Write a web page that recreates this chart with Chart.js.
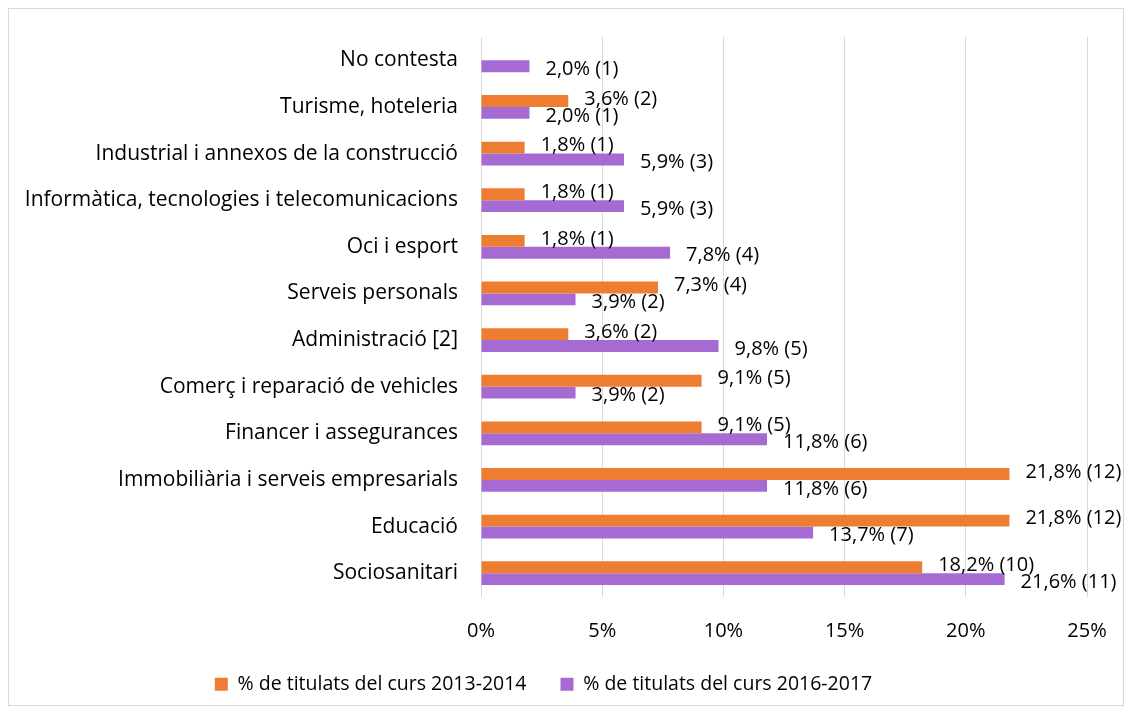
<!DOCTYPE html>
<html>
<head>
<meta charset="utf-8">
<script src="https://cdn.jsdelivr.net/npm/chart.js@4.4.0/dist/chart.umd.min.js"></script>
<style>
  html, body { margin: 0; padding: 0; background: #fff; }
  #wrap { position: relative; width: 1132px; height: 714px; }
</style>
</head>
<body>
<div id="wrap"><canvas id="grafic"></canvas></div>
<script>
// Sectors (de dalt a baix)
const sectors = [
  'No contesta',
  'Turisme, hoteleria',
  'Industrial i annexos de la construcció',
  'Informàtica, tecnologies i telecomunicacions',
  'Oci i esport',
  'Serveis personals',
  'Administració [2]',
  'Comerç i reparació de vehicles',
  'Financer i assegurances',
  'Immobiliària i serveis empresarials',
  'Educació',
  'Sociosanitari'
];

// % i nombre de titulats 2013-2014
const pct1314 = [null, 3.6, 1.8, 1.8, 1.8, 7.3, 3.6, 9.1, 9.1, 21.8, 21.8, 18.2];
const num1314 = [null, 2, 1, 1, 1, 4, 2, 5, 5, 12, 12, 10];

// % i nombre de titulats 2016-2017
const pct1617 = [2.0, 2.0, 5.9, 5.9, 7.8, 3.9, 9.8, 3.9, 11.8, 11.8, 13.7, 21.6];
const num1617 = [1, 1, 3, 3, 4, 2, 5, 2, 6, 6, 7, 11];

const xTicks = [0, 5, 10, 15, 20, 25];

const FONT = '"Open Sans", sans-serif';
const fmt = v => v.toFixed(1).replace('.', ',') + '%';

// etiquetes de dades + marc exterior
const etiquetes = {
  id: 'etiquetes',
  beforeDraw(chart) {
    const c = chart.ctx;
    c.save();
    c.strokeStyle = '#d9d9d9';
    c.lineWidth = 1;
    c.strokeRect(8.5, 8.5, 1115, 697);
    c.restore();
  },
  afterDatasetsDraw(chart) {
    const c = chart.ctx;
    const counts = [num1314, num1617];
    c.save();
    c.font = '20px ' + FONT;
    c.fillStyle = '#000';
    c.textBaseline = 'middle';
    c.textAlign = 'left';
    chart.data.datasets.forEach((ds, di) => {
      chart.getDatasetMeta(di).data.forEach((bar, i) => {
        const v = ds.data[i];
        if (v == null) return;
        const dy = di === 0 ? -2 : 3;
        c.fillText(fmt(v) + ' (' + counts[di][i] + ')', bar.x + 16, bar.y + dy);
      });
    });
    c.restore();
  }
};

new Chart(document.getElementById('grafic'), {
  type: 'bar',
  data: {
    labels: sectors,
    datasets: [
      { label: '% de titulats del curs 2013-2014', data: pct1314, backgroundColor: '#ed7d31',
        categoryPercentage: 0.51, barPercentage: 1.0 },
      { label: '% de titulats del curs 2016-2017', data: pct1617, backgroundColor: '#a66bd3',
        categoryPercentage: 0.51, barPercentage: 1.0 }
    ]
  },
  options: {
    indexAxis: 'y',
    responsive: true,
    maintainAspectRatio: false,
    animation: false,
    layout: { padding: { top: 37, right: 45, bottom: 10, left: 0 } },
    scales: {
      x: {
        min: 0, max: 25,
        afterBuildTicks: s => { s.ticks = xTicks.map(v => ({ value: v })); },
        grid: { color: '#d9d9d9', drawTicks: false },
        border: { display: false },
        ticks: { color: '#000', font: { family: FONT, size: 20 }, padding: 23, callback: v => v + '%' },
        afterFit: s => { s.height = 44; }
      },
      y: {
        grid: { display: false },
        border: { display: false },
        ticks: { color: '#000', font: { family: FONT, size: 21 }, padding: 15, autoSkip: false },
        afterFit: s => { s.width = 481; }
      }
    },
    plugins: {
      legend: {
        position: 'bottom',
        labels: { color: '#000', font: { family: FONT, size: 19.5 }, boxWidth: 13, boxHeight: 13, padding: 34 }
      },
      tooltip: { enabled: false }
    }
  },
  plugins: [etiquetes]
});
</script>
</body>
</html>
